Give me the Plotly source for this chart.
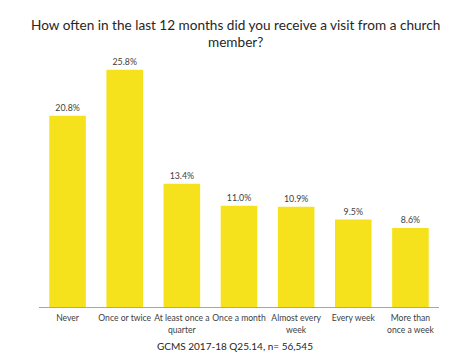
import plotly.graph_objects as go

categories = ["Never", "Once or twice", "At least once a<br>quarter", "Once a month",
              "Almost every<br>week", "Every week", "More than<br>once a week"]
values = [20.8, 25.8, 13.4, 11.0, 10.9, 9.5, 8.6]
labels = ["20.8%", "25.8%", "13.4%", "11.0%", "10.9%", "9.5%", "8.6%"]

title_lines = ["How often in the last 12 months did you receive a visit from a church", "member?"]
footer = "GCMS 2017-18 Q25.14, n= 56,545"

fig = go.Figure(go.Bar(
    x=categories, y=values, text=labels, textposition="outside",
    marker=dict(color="#F6E21C", line=dict(width=0)),
    textfont=dict(family="Lato", size=8.8, color="#404040"),
    cliponaxis=False,
))

fig.update_layout(
    width=460, height=355,
    margin=dict(l=31, r=29, t=23, b=56),
    paper_bgcolor="white", plot_bgcolor="white",
    bargap=0.36,
    showlegend=False,
    font=dict(family="Lato", color="#404040"),
    xaxis=dict(showline=True, linecolor="#A6A6A6", linewidth=1, ticks="",
               tickangle=0, automargin=False, ticklabelstandoff=3,
               tickfont=dict(family="Lato", size=8.6, color="#404040")),
    yaxis=dict(range=[0, 30], visible=False, showgrid=False, zeroline=False, automargin=False),
    annotations=[
        dict(text=title_lines[0],
             xref="paper", yref="paper", x=0.49, y=1.0217, xanchor="center", yanchor="middle",
             showarrow=False, font=dict(family="Lato", size=13.6, color="#262626")),
        dict(text=title_lines[1],
             xref="paper", yref="paper", x=0.49, y=0.960, xanchor="center", yanchor="middle",
             showarrow=False, font=dict(family="Lato", size=13.6, color="#262626")),
        dict(text=footer,
             xref="paper", yref="paper", x=0.49, y=-0.141, xanchor="center", yanchor="middle",
             showarrow=False, font=dict(family="Lato", size=10, color="#262626")),
    ],
)

fig.write_html("out.html")
